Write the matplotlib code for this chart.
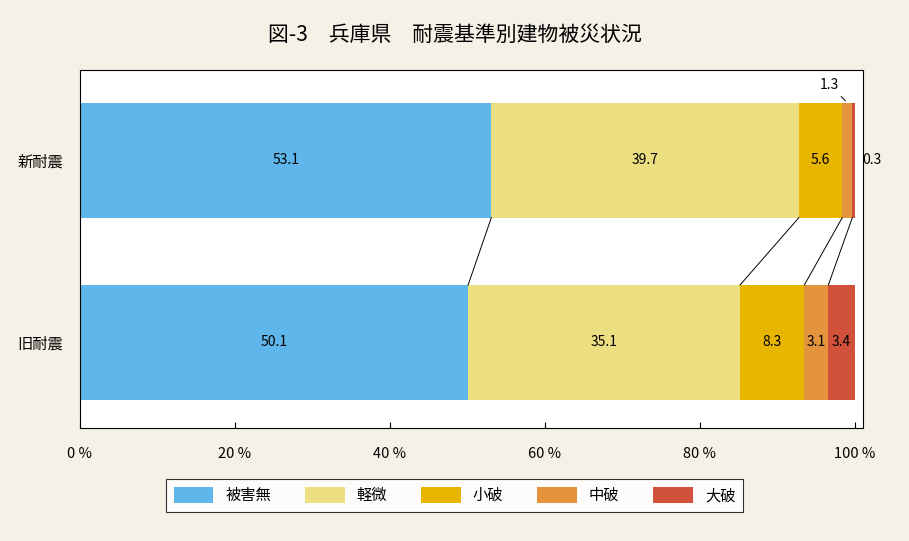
import numpy as np
import matplotlib.pyplot as plt

plt.rcParams['font.family'] = 'Noto Sans CJK JP'

groups = ["新耐震", "旧耐震"]
levels = ["被害無", "軽微", "小破", "中破", "大破"]
new_vals = [53.1, 39.7, 5.6, 1.3, 0.3]
old_vals = [50.1, 35.1, 8.3, 3.1, 3.4]
colors = ["#5eb6ea", "#ecdf82", "#e8b600", "#e5943e", "#d1513a"]
bg = "#f6f1e7"

fig = plt.figure(figsize=(9.09, 5.41), dpi=100, facecolor=bg)
ax = fig.add_axes([0.088, 0.209, 0.861, 0.662])
ax.set_facecolor("white")

h = 0.63
data = [new_vals, old_vals]
for i, vals in enumerate(data):
    left = 0
    for j, v in enumerate(vals):
        ax.barh(i, v, left=left, height=h, color=colors[j], label=levels[j] if i == 0 else None)
        if i == 0 and j == 3:
            ax.annotate(f"{v}", xy=(left + v / 2, i - h / 2), xytext=(left - 1.6, i - h / 2 - 0.1),
                        ha="center", va="center", fontsize=10,
                        arrowprops=dict(arrowstyle="-", color="black", lw=0.7))
        elif i == 0 and j == 4:
            ax.text(101, i, f"{v}", ha="left", va="center", fontsize=10)
        else:
            ax.text(left + v / 2, i, f"{v}", ha="center", va="center", fontsize=10)
        left += v

cn = np.cumsum(new_vals)
co = np.cumsum(old_vals)
for a, b in zip(cn[:-1], co[:-1]):
    ax.plot([a, b], [0 + h / 2, 1 - h / 2], color="black", lw=0.7)

ax.set_xlim(0, 101.03)
ax.set_ylim(1.47, -0.497)
ax.set_xticks(range(0, 101, 20))
ax.set_xticklabels([f"{t} %" for t in range(0, 101, 20)], fontsize=10.5)
ax.set_yticks([0, 1])
ax.set_yticklabels(groups, fontsize=11)
ax.tick_params(axis="x", direction="in", length=4, pad=14)
ax.tick_params(axis="y", length=0, pad=12)

fig.suptitle("図-3　兵庫県　耐震基準別建物被災状況", y=0.955, fontsize=15)
leg = fig.legend(loc="lower center", bbox_to_anchor=(0.5, 0.04), ncol=5, frameon=True,
                 fancybox=False, edgecolor="black", fontsize=11, handlelength=2.6,
                 handleheight=1.2, columnspacing=2.2, borderpad=0.5)
leg.get_frame().set_linewidth(0.8)

plt.savefig("out.png", facecolor=bg)
